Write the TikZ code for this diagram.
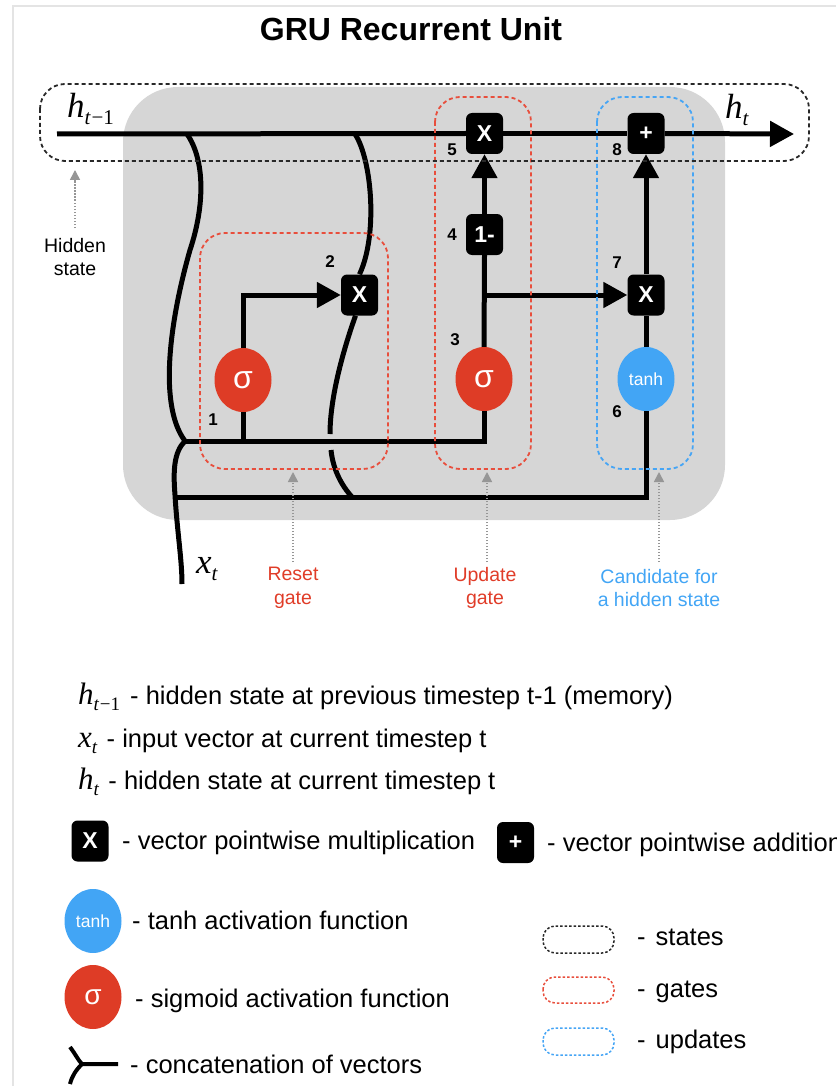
\documentclass[tikz,border=0pt]{standalone}
\usepackage{graphicx}
\usepackage{fontspec}
\setmainfont{Liberation Sans}
\newfontfamily\tmsfont{Liberation Serif}
\usetikzlibrary{arrows.meta,shapes.geometric}
\definecolor{sigred}{RGB}{222,60,38}
\definecolor{tanhblue}{RGB}{66,165,245}
\definecolor{gatered}{RGB}{232,78,60}
\definecolor{updblue}{RGB}{70,165,245}
\definecolor{cellgrey}{RGB}{214,214,214}
\definecolor{ptrgrey}{RGB}{150,150,150}
\definecolor{framegrey}{RGB}{228,228,228}
\definecolor{labred}{RGB}{224,60,40}
\definecolor{statedash}{RGB}{40,40,40}
% #1 main size, #2 sub size, #3 drop, #4 letter, #5 subscript
\newcommand{\svar}[5]{{\fontsize{#1}{#1}\selectfont\tmsfont\itshape #4}\raisebox{-#3}{\fontsize{#2}{#2}\selectfont\tmsfont #5}}
\newcommand{\tminus}{\textit{t}\kern0.03em−1}
\begin{document}
\begin{tikzpicture}[x=1pt,y=-1pt,
  wire/.style={line width=5pt},
  tipA/.style={-{Triangle[length=24pt,width=25pt]}},
  opbox/.style={fill=black, rounded corners=6pt, minimum width=37pt, minimum height=41pt, inner sep=0pt, text=white, font=\fontsize{23}{23}\selectfont\bfseries},
  sigmanode/.style={ellipse, fill=sigred, minimum width=57pt, minimum height=64pt, inner sep=0pt, text=white, font=\fontsize{32}{32}\selectfont},
  tanhnode/.style={ellipse, fill=tanhblue, minimum width=57pt, minimum height=64pt, inner sep=0pt, text=white, font=\fontsize{17.5}{17.5}\selectfont},
  num/.style={font=\fontsize{17}{17}\selectfont\bfseries, inner sep=0pt},
  gatebox/.style={draw=gatered, line width=1.8pt, dash pattern=on 4pt off 3pt, rounded corners=25pt},
  updbox/.style={draw=updblue, line width=1.8pt, dash pattern=on 4pt off 3pt, rounded corners=25pt},
  statebox/.style={draw=statedash, line width=1.8pt, dash pattern=on 4pt off 3pt, rounded corners=25pt},
  ptr/.style={draw=ptrgrey, line width=1.6pt, dash pattern=on 1.5pt off 1.5pt, -{Triangle[length=10pt,width=10pt]}},
  mathlab/.style={anchor=base west, inner sep=0pt},
  lab/.style={align=center, inner sep=0pt, font=\fontsize{19.5}{23.5}\selectfont},
  legtext/.style={anchor=base west, inner sep=0pt, font=\fontsize{25.5}{28}\selectfont},
  legbox/.style={line width=1.5pt, dash pattern=on 2.5pt off 2pt, rounded corners=12pt}
]
\useasboundingbox (0,0) rectangle (836,1086);
% frame
\draw[framegrey, line width=2pt] (13,1086) -- (13,6) -- (836,6);
% title
\node[font=\fontsize{32}{38}\selectfont\bfseries] (title) at (411,29) {GRU Recurrent Unit};
% cell background
\fill[cellgrey, rounded corners=55pt] (123,87) rectangle (725,520);

% nodes
\node[opbox] (m5) at (484.5,133.5) {X};
\node[opbox] (a8) at (646,133.5) {+};
\node[opbox] (o4) at (484.5,234.5) {1-};
\node[opbox] (m7) at (646,295) {X};
\node[opbox] (m2) at (359.5,295) {X};
\node[sigmanode] (s1) at (243,380) {σ};
\node[sigmanode] (s3) at (484,379) {σ};
\node[tanhnode] (t6) at (646,379) {tanh};

% coordinates
\coordinate (hin) at (57,134);
\coordinate (hout) at (794,134);
\coordinate (c1top) at (187,134);
\coordinate (c2top) at (355,134);
\coordinate (cat) at (185,441);
\coordinate (xin) at (182,584);
\coordinate (rc) at (243,295);
\coordinate (uc) at (484,441);
\coordinate (rj) at (243,441);
\coordinate (brn) at (484,295);
\coordinate (bl) at (175,497);
\coordinate (bc) at (646,497);
\coordinate (c2bot) at (352,497);

% main state line
\draw[wire] (hin) -- (m5.west);
\draw[wire] (m5.east) -- (a8.west);
\draw[wire,tipA] (a8.east) -- (hout);

% h_{t-1} curve to concatenation
\draw[wire] (c1top) .. controls (205,160) and (205,205) .. (190,250)
  .. controls (170,320) and (158,405) .. (cat);
% x_t input curve
\draw[wire] (cat) .. controls (174,452) and (173,470) .. (175,495)
  .. controls (177,530) and (182,560) .. (xin);
% concatenated vector lines
\draw[wire] (cat) -- (uc) -- (s3.south);
\draw[wire] (s1.south) -- (rj);
\draw[wire] (bl) -- (bc) -- (t6.south);

% reset gate
\draw[wire,tipA] (s1.north) -- (rc) -- (m2.west);
\draw[wire] (c2top) .. controls (372,160) and (378,235) .. (m2.north);
\draw[wire] ([xshift=-4pt]m2.south) .. controls (345,345) and (330,395) .. (330,434);
\draw[wire] (331,450) .. controls (333,470) and (342,486) .. (c2bot);

% update gate
\draw[wire] (s3.north) -- (o4.south);
\draw[wire,tipA] (o4.north) -- (m5.south);
\draw[wire,tipA] (brn) -- (m7.west);

% candidate
\draw[wire] (t6.north) -- (m7.south);
\draw[wire,tipA] (m7.north) -- (a8.south);

% step numbers
\node[num] (n1) at (213,420) {1};
\node[num] (n2) at (330,262) {2};
\node[num] (n3) at (455,340) {3};
\node[num] (n4) at (452,235) {4};
\node[num] (n5) at (452,150) {5};
\node[num] (n6) at (617,412) {6};
\node[num] (n7) at (617,263) {7};
\node[num] (n8) at (617,150) {8};

% dashed groups
\draw[gatebox] (200,233) rectangle (388,469);
\draw[gatebox] (435,97) rectangle (531,469);
\draw[updbox] (597,97) rectangle (693,469);
\draw[statebox] (40,84) rectangle (809,161);

% state labels
\node[mathlab] (lhp) at (67,118) {\svar{35}{21}{7pt}{h}{\tminus}};
\node[mathlab] (lht) at (725,119) {\svar{35}{21}{7pt}{h}{\textit{t}}};
\node[mathlab] (lxt) at (196,573) {\svar{35}{21}{7pt}{x}{\textit{t}}};

% pointers and captions
\node[lab] (hs) at (75,257) {Hidden\\state};
\draw[ptr] (75,228) -- (75,170);
\node[lab, text=labred] (rg) at (293,588) {Reset\\gate};
\draw[ptr] (293,562) -- (293,472);
\node[lab, text=labred] (ug) at (485,588) {Update\\gate};
\draw[ptr] (487,562) -- (487,472);
\node[lab, text=tanhblue] (cg) at (659,588) {Candidate for\\a hidden state};
\draw[ptr] (659,562) -- (659,472);

% legend
\node[legtext] (lg1) at (78,704) {\svar{31}{19}{6pt}{h}{\tminus}\kern3pt{} - hidden state at previous timestep t-1 (memory)};
\node[legtext] (lg2) at (78,747) {\svar{31}{19}{6pt}{x}{\textit{t}}\kern2pt{} - input vector at current timestep t};
\node[legtext] (lg3) at (78,789) {\svar{31}{19}{6pt}{h}{\textit{t}}\kern2pt{} - hidden state at current timestep t};
\node[opbox] (lgx) at (90,841) {X};
\node[legtext] (lgxt) at (122,849) {- vector pointwise multiplication};
\node[opbox] (lgp) at (515.5,842.5) {+};
\node[legtext] (lgpt) at (547,851) {- vector pointwise addition};
\node[tanhnode] (lgt) at (93,921) {tanh};
\node[legtext] (lgtt) at (132,929) {- tanh activation function};
\node[sigmanode, font=\fontsize{28}{28}\selectfont] (lgs) at (93,997) {σ};
\node[legtext] (lgst) at (135,1007) {- sigmoid activation function};
\coordinate (lcj) at (82,1064);
\draw[line width=4pt] (70,1047) .. controls (76,1055) and (78,1060) .. (lcj) -- (118,1064);
\draw[line width=4pt] (lcj) .. controls (76,1070) and (72,1076) .. (70,1084);
\node[legtext] (lgct) at (130,1073) {- concatenation of vectors};
\draw[legbox, draw=statedash] (543,926) rectangle (614,953);
\node[legtext] (lgs1) at (637,945) {-\hspace{10pt}states};
\draw[legbox, draw=gatered] (543,977) rectangle (614,1003);
\node[legtext] (lgs2) at (637,997) {-\hspace{10pt}gates};
\draw[legbox, draw=updblue] (543,1028) rectangle (614,1055);
\node[legtext] (lgs3) at (637,1048) {-\hspace{10pt}updates};
\end{tikzpicture}
\end{document}
